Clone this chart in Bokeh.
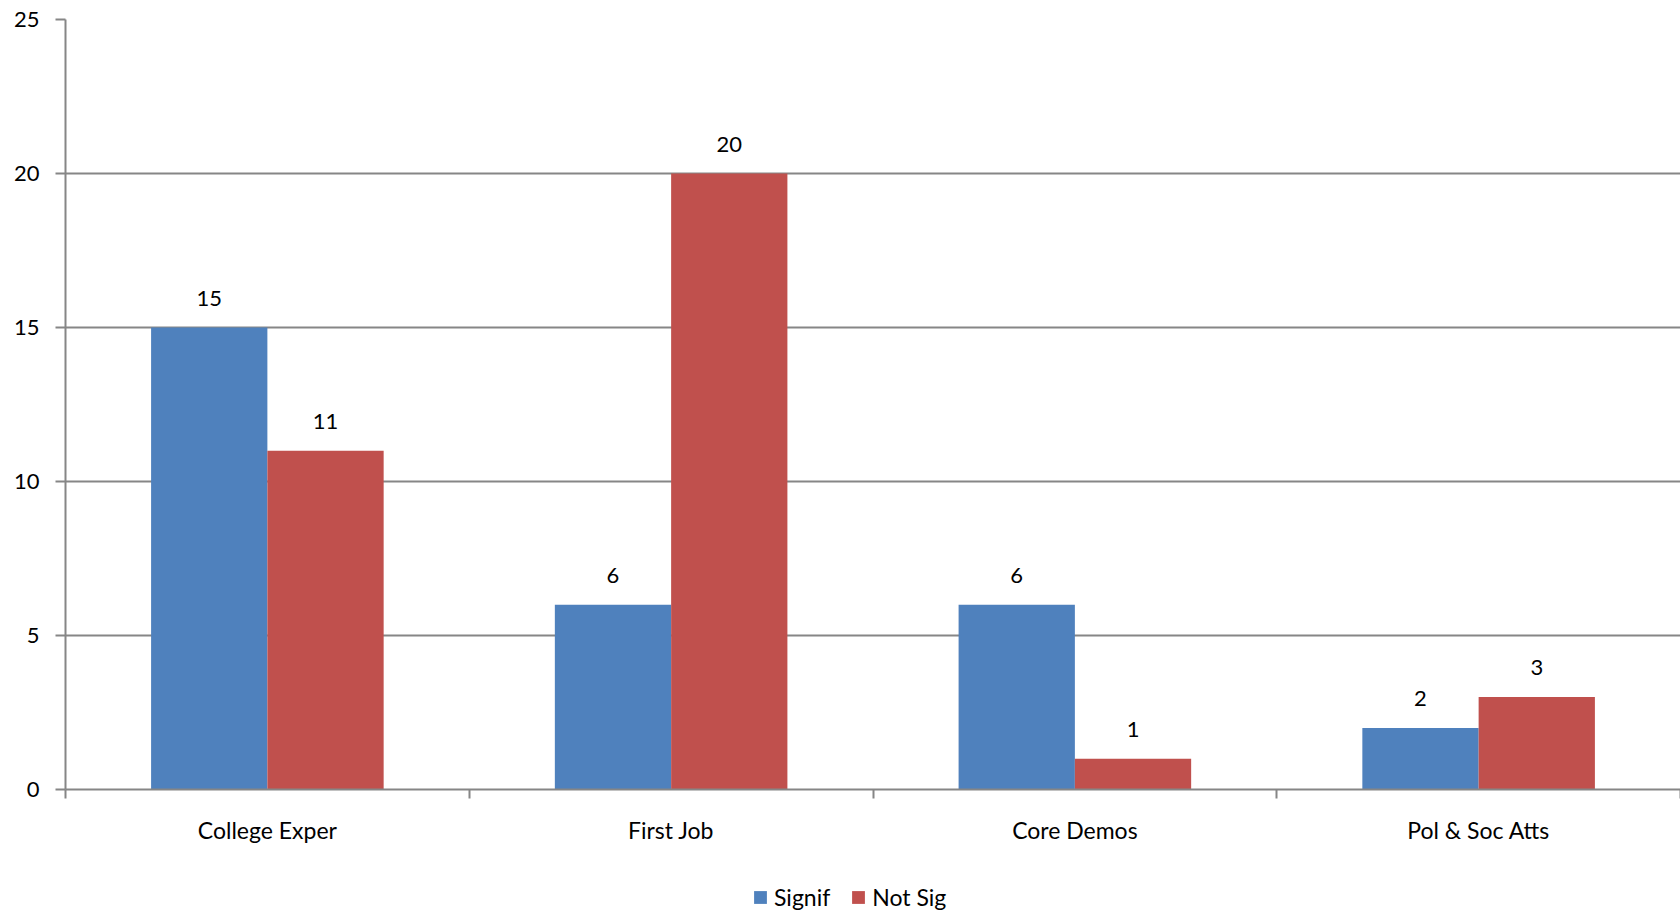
from bokeh.plotting import figure
from bokeh.layouts import column
from bokeh.models import Range1d, FixedTicker, Legend, LegendItem, ColumnDataSource
from bokeh.core.properties import value
from bokeh.transform import dodge
from bokeh.embed import file_html
from bokeh.resources import INLINE

categories = ["College Exper", "First Job", "Core Demos", "Pol & Soc Atts"]
signif = [15, 6, 6, 2]
not_sig = [11, 20, 1, 3]
series_names = ["Signif", "Not Sig"]
y_ticks = [0, 5, 10, 15, 20, 25]

BLUE = "#4F81BD"
RED = "#C0504D"
GRAY = "#868686"
FONT = "Lato"
FS = "22px"

centers = [i + 0.5 for i in range(len(categories))]
src = ColumnDataSource(dict(x=centers, signif=signif, not_sig=not_sig,
                            ls=[str(v) for v in signif], ln=[str(v) for v in not_sig]))

p = figure(width=1680, height=869, frame_width=1615, frame_height=770,
           output_backend="svg", toolbar_location=None,
           x_range=Range1d(0, 4), y_range=Range1d(0, 25),
           min_border_left=65, min_border_right=0, min_border_top=19, min_border_bottom=80)
p.outline_line_color = None
p.background_fill_color = "white"
p.border_fill_color = "white"

bw = 0.288
r1 = p.vbar(x=dodge("x", -bw / 2, range=p.x_range), top="signif", width=bw, bottom=0,
            source=src, fill_color=BLUE, line_color=None)
r2 = p.vbar(x=dodge("x", bw / 2, range=p.x_range), top="not_sig", width=bw, bottom=0,
            source=src, fill_color=RED, line_color=None)

p.text(x=dodge("x", -bw / 2, range=p.x_range), y="signif", text="ls", source=src,
       text_align="center", text_baseline="bottom", y_offset=-22,
       text_font=value(FONT), text_font_size=FS, text_color="black")
p.text(x=dodge("x", bw / 2, range=p.x_range), y="not_sig", text="ln", source=src,
       text_align="center", text_baseline="bottom", y_offset=-22,
       text_font=value(FONT), text_font_size=FS, text_color="black")

# x axis
xa = p.xaxis[0]
xa.ticker = FixedTicker(ticks=centers, minor_ticks=list(range(len(categories) + 1)))
xa.major_label_overrides = {c: n for c, n in zip(centers, categories)}
xa.major_tick_line_color = None
xa.major_tick_out = 0
xa.major_tick_in = 0
xa.minor_tick_line_color = GRAY
xa.minor_tick_line_width = 2
xa.minor_tick_out = 9
xa.minor_tick_in = 0
xa.major_label_standoff = 17
xa.axis_line_color = GRAY
xa.axis_line_width = 2
xa.major_label_text_font = FONT
xa.major_label_text_font_size = "23px"
xa.major_label_text_color = "black"

# y axis
ya = p.yaxis[0]
ya.ticker = FixedTicker(ticks=y_ticks)
ya.axis_line_color = GRAY
ya.axis_line_width = 2
ya.major_tick_line_color = GRAY
ya.major_tick_line_width = 2
ya.major_tick_out = 10
ya.major_tick_in = 0
ya.minor_tick_line_color = None
ya.major_label_standoff = 16
ya.major_label_text_font = FONT
ya.major_label_text_font_size = FS
ya.major_label_text_color = "black"

p.xgrid.grid_line_color = None
p.ygrid.ticker = FixedTicker(ticks=y_ticks)
p.ygrid.grid_line_color = GRAY
p.ygrid.grid_line_width = 2

# legend strip below the chart
lg = figure(width=1680, height=46, output_backend="svg", toolbar_location=None,
            x_range=Range1d(0, 1), y_range=Range1d(0, 1),
            x_axis_location=None, y_axis_location=None,
            min_border_left=0, min_border_right=0, min_border_top=0, min_border_bottom=0)
lg.outline_line_color = None
lg.xgrid.grid_line_color = None
lg.ygrid.grid_line_color = None
# zero-height placeholder bars, only used as legend swatches
dummy = ColumnDataSource(dict(x=[0.5], top=[0]))
d1 = lg.vbar(x="x", top="top", bottom=0, width=0.01, source=dummy,
             fill_color=BLUE, line_color=None)
d2 = lg.vbar(x="x", top="top", bottom=0, width=0.01, source=dummy,
             fill_color=RED, line_color=None)

legend = Legend(items=[LegendItem(label=series_names[0], renderers=[d1]),
                       LegendItem(label=series_names[1], renderers=[d2])],
                orientation="horizontal", location=(687, 4),
                label_text_font=FONT, label_text_font_size="23px",
                label_text_color="black",
                glyph_width=16, glyph_height=16, label_standoff=6, spacing=20,
                border_line_color=None, background_fill_alpha=0,
                padding=0, margin=0)
lg.add_layout(legend, "center")

open("out.html", "w").write(file_html(column(p, lg, spacing=0), INLINE))
